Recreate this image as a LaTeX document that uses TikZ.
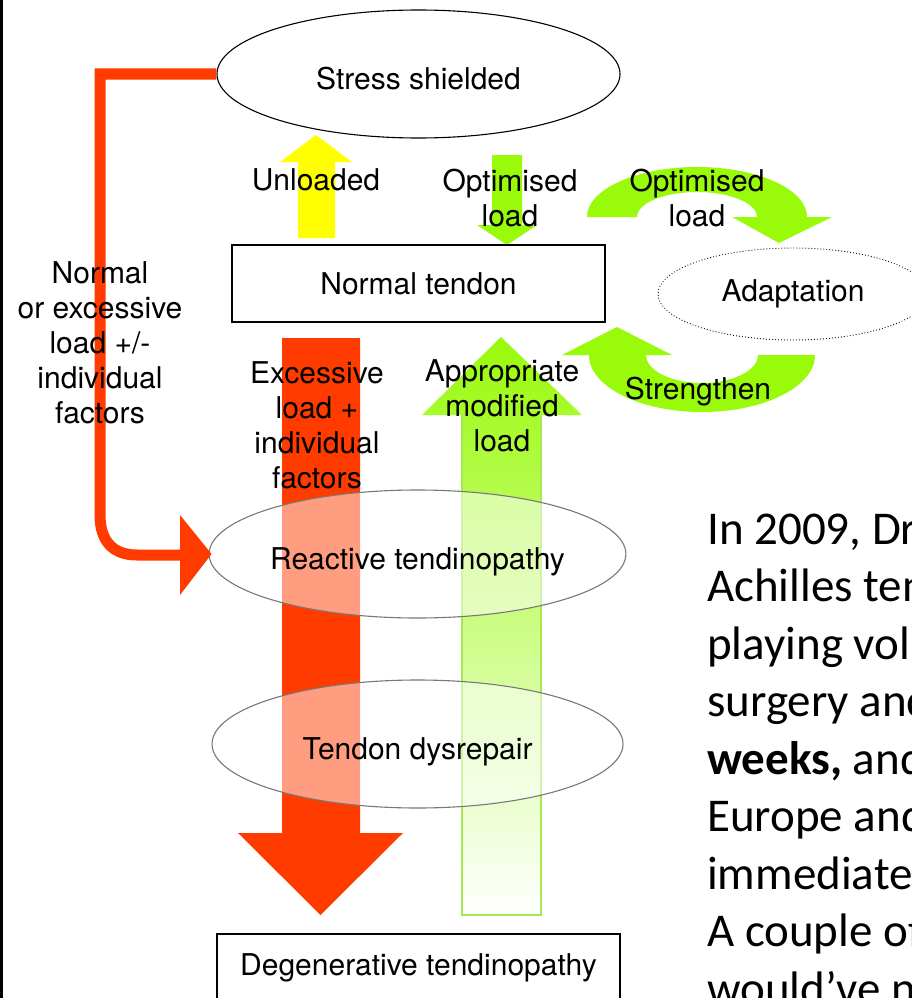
\documentclass[tikz,border=0pt]{standalone}
\usepackage{fontspec}
\setmainfont{TeX Gyre Heros}
\newfontfamily\slidefont{Carlito}
\usetikzlibrary{shapes.geometric}
\definecolor{redA}{RGB}{255,59,0}
\definecolor{limeA}{RGB}{153,250,10}
\definecolor{limeM}{RGB}{200,245,140}
\definecolor{yelA}{RGB}{255,255,0}
\definecolor{greyE}{RGB}{120,120,120}
\definecolor{greenEdge}{RGB}{165,232,80}
\begin{document}
\begin{tikzpicture}[x=1pt,y=-1pt,
  lbl/.style={inner sep=0pt, align=center, font=\fontsize{30}{35}\selectfont},
  oval/.style={ellipse, inner sep=0pt, draw=greyE, line width=1.1pt, fill=white,
    fill opacity=0.5, text opacity=1, draw opacity=1, font=\fontsize{30}{35}\selectfont,
    text height=30pt, text depth=0pt},
  box/.style={draw=black, line width=1.4pt, fill=white, inner sep=0pt,
    font=\fontsize{30}{35}\selectfont},
  slide/.style={anchor=base west, inner sep=0pt, font=\slidefont\fontsize{47}{57}\selectfont}
]
\useasboundingbox (0,0) rectangle (911,998);
\clip (0,0) rectangle (911,998);
\fill[white] (0,0) rectangle (911,998);
\fill[black] (0,0) rectangle (3,998);

% big red down arrow
\fill[redA] (282,338) -- (360,338) -- (360,833) -- (403,833) -- (320.5,915) -- (238,833) -- (282,833) -- cycle;
% green up arrow with fade
\shade[top color=limeA, middle color=limeM, bottom color=white]
  (462,915) -- (462,415) -- (422,415) -- (501,337) -- (582,415) -- (541,415) -- (541,915) -- cycle;
\draw[greenEdge, line width=1.5pt] (462,415) -- (462,915) -- (541,915) -- (541,415);

% yellow up arrow (Unloaded)
\fill[yelA] (298,238) -- (298,162) -- (280,162) -- (316,135) -- (352,162) -- (335,162) -- (335,238) -- cycle;
% green down arrow (Optimised load)
\fill[limeA] (492,155) -- (522,155) -- (522,225) -- (537,225) -- (507,245) -- (477,225) -- (492,225) -- cycle;

% curved arrow top (to Adaptation)
\fill[limeA] (587,217) arc[start angle=180,end angle=360,x radius=110,y radius=50]
  -- (832,217) -- (779,243) -- (732,217) -- (757,217)
  arc[start angle=360,end angle=180,x radius=60,y radius=25] -- cycle;
% curved arrow bottom (Strengthen)
\fill[limeA] (815,355) arc[start angle=0,end angle=180,x radius=113,y radius=57]
  -- (562,355) -- (617,327) -- (672,355) -- (646,355)
  arc[start angle=180,end angle=0,x radius=56,y radius=28] -- cycle;

% nodes
\node[oval, draw=black, fill opacity=1, minimum width=403pt, minimum height=128pt] (stress) at (418.5,74) {Stress shielded};
\node[box, minimum width=373pt, minimum height=77pt] (normal) at (418.5,283.5) {Normal tendon};
\node[ellipse, inner sep=0pt, draw=black, line width=1.2pt, line cap=round,
  dash pattern=on 0pt off 3pt, minimum width=270pt, minimum height=92pt,
  font=\fontsize{30}{35}\selectfont] (adapt) at (793,294) {Adaptation};
\node[oval, minimum width=411pt, minimum height=128pt] (reactive) at (417.5,554) {Reactive tendinopathy};
\node[oval, minimum width=411pt, minimum height=128pt] (dysrepair) at (417.5,744) {Tendon dysrepair};
\node[box, minimum width=403pt, minimum height=68pt] (degen) at (418.5,968) {Degenerative tendinopathy};

% red L arrow
\coordinate (lcorner) at (100,74);
\coordinate (lbend) at (100,515);
\coordinate (lend) at (182,555);
\draw[redA, line width=11pt, line join=miter] (stress.west) -- (lcorner) -- (lbend)
  .. controls (100,540) and (112,555) .. (137,555) -- (lend);
\fill[redA] (180,515) -- ([xshift=3pt]reactive.west) -- (180,595) -- cycle;

% labels
\node[lbl] (lunl) at (316,180) {Unloaded};
\node[lbl] (lopt1) at (510,198) {Optimised\\load};
\node[lbl] (lopt2) at (697,198) {Optimised\\load};
\node[lbl] (lstr) at (698,392) {Strengthen};
\node[lbl] (lexc) at (317,425) {Excessive\\load +\\individual\\factors};
\node[lbl] (lapp) at (502,406) {Appropriate\\modified\\load};
\node[lbl] (lnorm) at (100,343) {Normal\\or excessive\\load +/-\\individual\\factors};

% slide text
\node[slide] (s1) at (707,544) {In 2009, Dr};
\node[slide] (s2) at (707,601.5) {Achilles ten};
\node[slide] (s3) at (707,659) {playing vol};
\node[slide] (s4) at (707,716.5) {surgery and};
\node[slide] (s5) at (707,774) {\bfseries weeks,\mdseries{} and};
\node[slide] (s6) at (707,831.5) {Europe and};
\node[slide] (s7) at (707,889) {immediate};
\node[slide] (s8) at (707,946.5) {A couple of};
\node[slide] (s9) at (707,1004) {would’ve n};
\end{tikzpicture}
\end{document}
